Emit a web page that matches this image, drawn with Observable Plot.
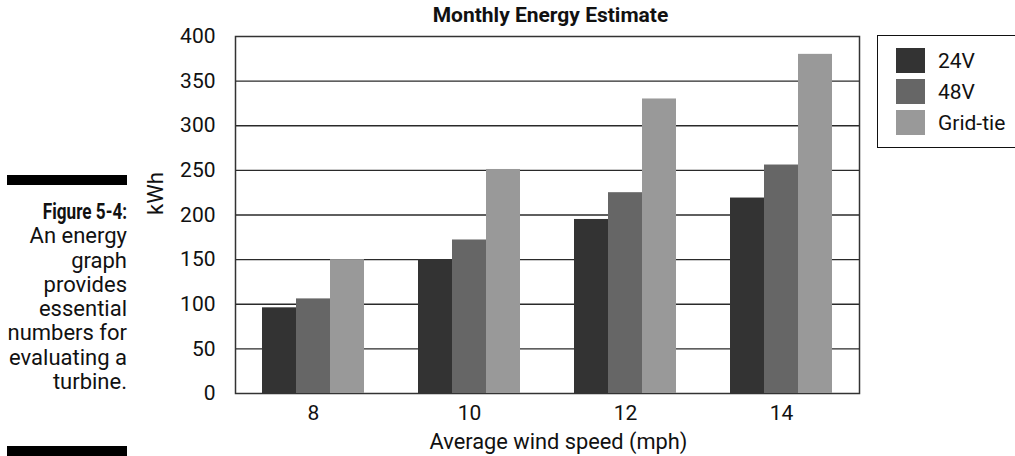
<!DOCTYPE html>
<html><head><meta charset="utf-8">
<script src="https://cdn.jsdelivr.net/npm/d3@7"></script>
<script src="https://cdn.jsdelivr.net/npm/@observablehq/plot@0.6"></script>
<style>
body{margin:0;background:#fff;}
#wrap{position:relative;width:1015px;height:456px;overflow:hidden;font-family:Roboto,"Liberation Sans",sans-serif;color:#111;}
.layer{position:absolute;left:0;top:0;}
#caption{position:absolute;left:0;top:200px;width:127px;text-align:right;font-size:22px;line-height:24.3px;}
#caption b{font-weight:bold;display:inline-block;transform:scaleX(0.78);transform-origin:right center;}
.bar{position:absolute;left:7px;width:120px;height:10px;background:#000;}
#legend{position:absolute;left:877px;top:35px;width:160px;height:113px;border:1px solid #111;box-sizing:border-box;}
.lrow{position:absolute;left:18px;height:25px;display:flex;align-items:center;font-size:21px;}
.sw{width:29px;height:25px;margin-right:13px;}
</style></head><body><div id="wrap"></div>
<script>
const speeds = ["8", "10", "12", "14"];
const series = ["24V", "48V", "Grid-tie"];
const values24V = [96, 150, 195, 219];
const values48V = [106, 172, 225, 256];
const valuesGrid = [150, 251, 330, 380];
const colors = ["#333333", "#666666", "#999999"];
const yTicks = [0, 50, 100, 150, 200, 250, 300, 350, 400];
const chartTitle = "Monthly Energy Estimate";
const xLabel = "Average wind speed (mph)";
const yLabel = "kWh";
const captionTitle = "Figure 5-4:";
const captionLines = ["An energy", "graph", "provides", "essential", "numbers for", "evaluating a", "turbine."];

const seriesValues = [values24V, values48V, valuesGrid];
const data = [];
speeds.forEach((s, i) => series.forEach((k, j) => data.push({speed: s, series: k, value: seriesValues[j][i]})));

const W = 1015, H = 456;
const margins = {marginLeft: 235, marginRight: 156, marginTop: 36, marginBottom: 63};
const font = "Roboto,'Liberation Sans',sans-serif";
const wrap = document.getElementById("wrap");

const base = Plot.plot({
  width: W, height: H, ...margins,
  style: {fontFamily: font, fontSize: "21px", color: "#111", background: "white"},
  x: {domain: speeds, paddingInner: 1/3, paddingOuter: 1/6, tickSize: 0, tickPadding: 12, label: null},
  y: {domain: [0, 400], ticks: yTicks, tickSize: 0, tickPadding: 20, label: null},
  marks: [
    Plot.ruleY(yTicks.slice(1, -1), {stroke: "#2a2a2a", strokeWidth: 1.3}),
    Plot.frame({stroke: "#333", strokeWidth: 1.5}),
    Plot.text([chartTitle], {frameAnchor: "top", lineAnchor: "middle", dx: 3, dy: -21, fontWeight: "bold", fontSize: 21}),
    Plot.text([xLabel], {frameAnchor: "bottom", lineAnchor: "middle", dx: 11, dy: 49, fontSize: 21.8}),
    Plot.text([yLabel], {frameAnchor: "left", dx: -80, rotate: -90, fontSize: 22})
  ]
});
base.classList.add("layer");
wrap.appendChild(base);

const bars = Plot.plot({
  width: W, height: H, ...margins,
  style: {background: "transparent"},
  fx: {domain: speeds, paddingInner: 1/3, paddingOuter: 1/6, axis: null, label: null},
  x: {domain: series, padding: 0, axis: null},
  y: {domain: [0, 400], axis: null},
  color: {domain: series, range: colors},
  marks: [
    Plot.barY(data, {fx: "speed", x: "series", y: "value", fill: "series"})
  ]
});
bars.classList.add("layer");
wrap.appendChild(bars);

// caption
const cap = document.createElement("div");
cap.id = "caption";
cap.innerHTML = "<b>" + captionTitle + "</b><br>" + captionLines.join("<br>");
wrap.appendChild(cap);
[175, 446].forEach(t => { const b = document.createElement("div"); b.className = "bar"; b.style.top = t + "px"; wrap.appendChild(b); });

// legend
const leg = document.createElement("div");
leg.id = "legend";
series.forEach((s, i) => {
  const row = document.createElement("div");
  row.className = "lrow";
  row.style.top = (12 + i * 31) + "px";
  const sw = document.createElement("div");
  sw.className = "sw";
  sw.style.background = colors[i];
  row.appendChild(sw);
  row.appendChild(document.createTextNode(s));
  leg.appendChild(row);
});
wrap.appendChild(leg);
</script></body></html>
